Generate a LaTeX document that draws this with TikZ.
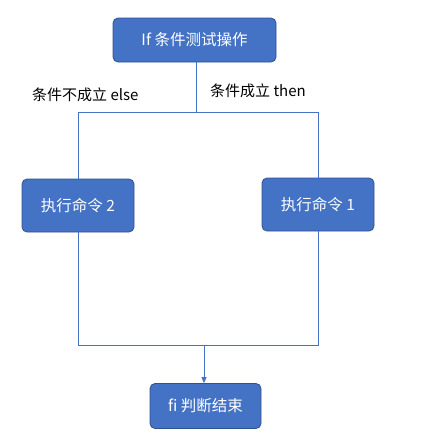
\documentclass[tikz,border=0pt]{standalone}
\usepackage{fontspec}
\setmainfont{Noto Sans CJK SC}
\usetikzlibrary{arrows.meta}
\definecolor{flowblue}{HTML}{4472C4}
\definecolor{flowedge}{HTML}{2F528F}
\tikzset{
  >=Stealth,
  font=\fontsize{15pt}{18pt}\selectfont,
  stepbox/.style={draw=flowedge,line width=0.8pt,rounded corners=5pt,fill=flowblue,
                  text=white,inner sep=0pt,align=center,
                  font=\fontsize{15.5pt}{18pt}\selectfont},
  link/.style={draw=flowblue,line width=0.8pt},
  flowlbl/.style={inner sep=0pt,anchor=west},
}
\begin{document}
\begin{tikzpicture}[x=1pt,y=-1pt]
  \useasboundingbox (0,0) rectangle (438,448);

  % test and branches
  \node[stepbox,minimum width=163pt,minimum height=44pt] (cond)  at (194.5,40)  {If 条件测试操作};
  \node[stepbox,minimum width=112pt,minimum height=53pt] (exec2) at (78,205.5)  {执行命令 2};
  \node[stepbox,minimum width=112pt,minimum height=53pt] (exec1) at (318,204.5) {执行命令 1};
  \node[stepbox,minimum width=111pt,minimum height=45pt] (done)  at (205.5,406) {fi 判断结束};

  \coordinate (split) at (196,112);
  \coordinate (merge) at (204,345);

  \draw[link] (cond.south -| split) -- (split);
  \draw[link] (exec2.north) -- (exec2.north |- split) -- (exec1.north |- split) -- (exec1.north);
  \draw[link] (exec2.south) -- (exec2.south |- merge) -- (exec1.south |- merge) -- (exec1.south);
  \draw[link,-{Triangle[length=6pt,width=5pt]}] (merge) -- (done.north -| merge);

  % branch labels
  \node[flowlbl] (elselbl) at (32,95) {条件不成立 else};
  \node[flowlbl] (thenlbl) at (210,91) {条件成立 then};
\end{tikzpicture}
\end{document}
